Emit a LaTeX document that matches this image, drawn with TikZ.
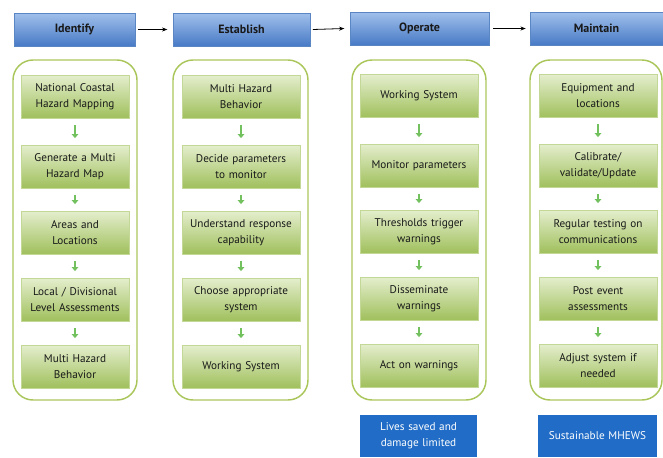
\documentclass[tikz,border=0pt]{standalone}
\usepackage{fontspec}
\setmainfont{PT Sans}
\usetikzlibrary{arrows.meta}
\definecolor{hdrtop}{RGB}{160,192,235}
\definecolor{hdrbot}{RGB}{72,122,198}
\definecolor{hdrline}{RGB}{90,135,195}
\definecolor{steptop}{RGB}{228,238,205}
\definecolor{stepbot}{RGB}{160,192,92}
\definecolor{stepline}{RGB}{195,215,150}
\definecolor{frameline}{RGB}{170,198,90}
\definecolor{flowgreen}{RGB}{115,192,95}
\definecolor{resultblue}{RGB}{32,108,198}
\definecolor{txt}{RGB}{25,25,25}
\tikzset{
  phase/.style={draw=hdrline, top color=hdrtop, bottom color=hdrbot, minimum height=24.75pt,
    inner sep=0pt, font=\fontsize{9}{10}\selectfont\bfseries, text=txt},
  stepbox/.style={draw=stepline, top color=steptop, bottom color=stepbot, minimum height=32.25pt,
    minimum width=88.5pt, text width=86pt, align=center, inner sep=0pt,
    font=\fontsize{8.4}{12}\selectfont, text=txt},
  result/.style={fill=resultblue, minimum width=88pt, minimum height=31.5pt, text width=86pt,
    align=center, inner sep=0pt, font=\fontsize{8.4}{12}\selectfont, text=white},
  frame/.style={draw=frameline, line width=1.1pt, rounded corners=15pt},
  flow/.style={draw=flowgreen, line width=1.8pt, -{Triangle[length=3pt,width=5pt]}},
  next/.style={draw=black, line width=0.6pt, -{Stealth[length=4pt,width=3pt]}}
}
\begin{document}
\begin{tikzpicture}[x=0.75pt,y=-0.75pt]
  \useasboundingbox (0,0) rectangle (663,457);
  %rahmen
  \draw[frame] (13,60) rectangle (137,400);
  \draw[frame] (173,60) rectangle (308,400);
  \draw[frame] (352,60) rectangle (486,400);
  \draw[frame] (530,60) rectangle (662,400);
  %phasen
  \node[phase, minimum width=90.75pt] (id) at (74.5,29.5) {Identify};
  \node[phase, minimum width=102.75pt] (es) at (241.5,29.5) {Establish};
  \node[phase, minimum width=104.25pt] (op) at (419.5,28.5) {Operate};
  \node[phase, minimum width=99.75pt] (ma) at (596.5,28.5) {Maintain};
  \draw[next] ([xshift=2pt]id.east) -- ([xshift=-4pt]es.west);
  \draw[next] ([xshift=2pt]es.east) -- ([xshift=-4pt]op.west);
  \draw[next] ([xshift=3pt]op.east) -- ([xshift=-3pt]ma.west);
  %schritte
  \node[stepbox, minimum width=81pt, text width=80pt] (id1) at (75,96.5) {National Coastal\\Hazard Mapping};
  \node[stepbox, minimum width=81pt, text width=80pt] (id2) at (75,166.5) {Generate a Multi\\Hazard Map};
  \node[stepbox, minimum width=81pt, text width=80pt] (id3) at (75,232.5) {Areas and\\Locations};
  \node[stepbox, minimum width=81pt, text width=80pt] (id4) at (75,299.5) {Local / Divisional\\Level Assessments};
  \node[stepbox, minimum width=81pt, text width=80pt] (id5) at (75,366.5) {Multi Hazard\\Behavior};
  \node[stepbox] (es1) at (241,96.5) {Multi Hazard\\Behavior};
  \node[stepbox] (es2) at (241,166.5) {Decide parameters\\to monitor};
  \node[stepbox] (es3) at (241,232.5) {Understand response\\capability};
  \node[stepbox] (es4) at (241,299.5) {Choose appropriate\\system};
  \node[stepbox] (es5) at (241,366.5) {Working System};
  \node[stepbox] (op1) at (419,96) {Working System};
  \node[stepbox] (op2) at (419,165.5) {Monitor parameters};
  \node[stepbox] (op3) at (419,231.5) {Thresholds trigger\\warnings};
  \node[stepbox] (op4) at (419,298.5) {Disseminate\\warnings};
  \node[stepbox] (op5) at (419,365.5) {Act on warnings};
  \node[stepbox] (ma1) at (598,96) {Equipment and\\locations};
  \node[stepbox] (ma2) at (598,165.5) {Calibrate/\\validate/Update};
  \node[stepbox] (ma3) at (598,231.5) {Regular testing on\\communications};
  \node[stepbox] (ma4) at (598,298.5) {Post event\\assessments};
  \node[stepbox] (ma5) at (598,365.5) {Adjust system if\\needed};
  %pfeile
  \foreach \c in {id,es,op,ma}
    \foreach \a/\b in {1/2,2/3,3/4,4/5}
      \draw[flow] ([yshift=-5pt]\c\a.south) -- ([yshift=5pt]\c\b.north);
  %ergebnis
  \node[result] (op6) at (418.5,436) {Lives saved and\\damage limited};
  \node[result, minimum width=89pt] (ma6) at (597.5,436) {Sustainable MHEWS};
\end{tikzpicture}
\end{document}
